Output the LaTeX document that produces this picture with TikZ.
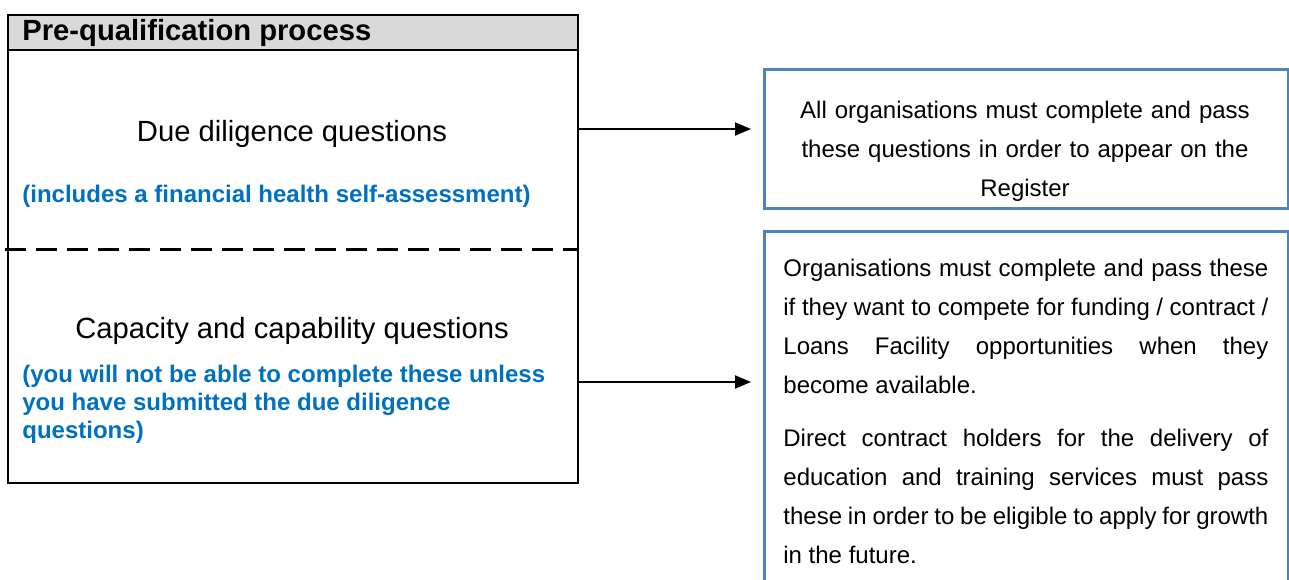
\documentclass[tikz,border=0pt]{standalone}
\usepackage{fontspec}
\setmainfont{Liberation Sans}
\usepackage{xcolor}
\usetikzlibrary{arrows.meta,positioning,calc}
\setlength{\parindent}{0pt}
\definecolor{noteblue}{HTML}{0070C0}
\definecolor{boxblue}{HTML}{4F81BD}
\definecolor{headgray}{HTML}{D9D9D9}

\begin{document}
\begin{tikzpicture}[x=0.5pt,y=-0.5pt,
    frame/.style={draw,line width=1.1pt,inner sep=0pt,anchor=north west},
    bluebox/.style={draw=boxblue,line width=1.5pt,inner sep=0pt,anchor=north west},
    bigtext/.style={font=\fontsize{14.6}{17}\selectfont,inner sep=0pt,anchor=base},
    note/.style={font=\fontsize{12}{14}\selectfont\bfseries,text=noteblue,inner sep=0pt,anchor=base west},
    body/.style={font=\fontsize{12}{19.5}\selectfont,inner sep=0pt,text width=242.5pt},
    divider/.style={line width=1.5pt,dash pattern=on 10.5pt off 5pt},
    arr/.style={-{Triangle[length=8pt,width=6.5pt]},line width=1pt,shorten >=6pt}]
  \useasboundingbox (0,0) rectangle (1289,579);

  % left: the pre-qualification box
  \node[frame,minimum width=285pt,minimum height=234pt] (prebox) at (7,14) {};
  \node[frame,fill=headgray,minimum width=285pt,minimum height=17.5pt] (prehead) at (7,14) {};
  \node[inner sep=0pt,anchor=base west,font=\fontsize{14.6}{17}\selectfont\bfseries] (title) at (22,40) {Pre-qualification process};

  \node[bigtext] (ddq) at (292,141) {Due diligence questions};
  \node[note] (ddnote) at (22,202.5) {(includes a financial health self-assessment)};
  \draw[divider] ([xshift=-1pt]prebox.west |- 0,249) -- (prebox.east |- 0,249);
  \node[bigtext] (ccq) at (292,338) {Capacity and capability questions};
  \node[note,align=left,anchor=north west] (ccnote) at (22,365) {(you will not be able to complete these unless\\you have submitted the due diligence\\questions)};

  % right: what each set is for
  \node[bluebox,minimum width=262pt,minimum height=69.5pt] (regbox) at (763,68) {};
  \node[body,align=center,anchor=north] (regtxt) at (1025,101) {All organisations must complete and pass\\these questions in order to appear on the\\Register};

  \node[bluebox,minimum width=262pt,minimum height=200pt] (fundbox) at (763,230) {};
  \node[body,align=justify,anchor=north west] (fundtxt) at (783,259) {%
    Organisations must complete and pass these\linebreak
    if they want to compete for funding / contract /\linebreak
    Loans Facility opportunities when they\linebreak
    become available.\par\vspace{7pt}
    Direct contract holders for the delivery of\linebreak
    education and training services must pass\linebreak
    these in order to be eligible to apply for growth\linebreak
    in the future.};

  % connectors
  \coordinate (regin) at (577,129);
  \coordinate (fundin) at (577,382);
  \draw[arr] (regin) -- (regin -| regbox.west);
  \draw[arr] (fundin) -- (fundin -| fundbox.west);
\end{tikzpicture}
\end{document}
